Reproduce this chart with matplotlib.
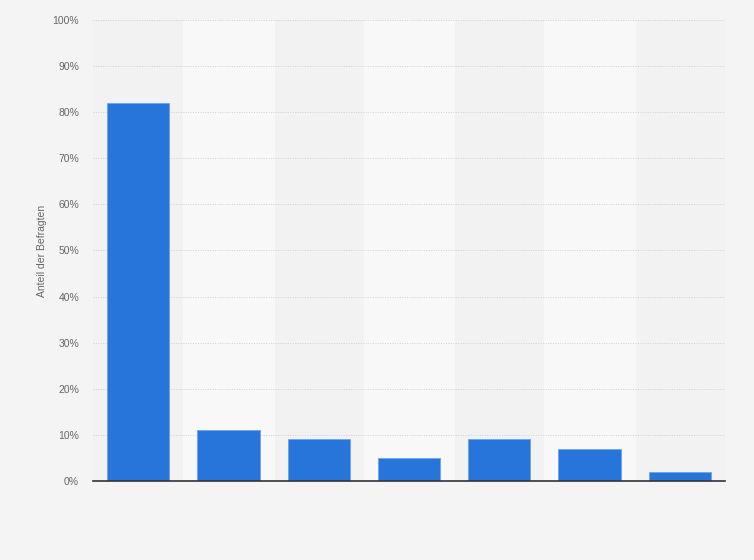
import matplotlib.pyplot as plt
import numpy as np

plt.rcParams['font.family'] = ['Liberation Sans', 'DejaVu Sans']

# values (percent of respondents)
categories = ['1', '2', '3', '4', '5', '6', '7']
shares = [82, 11, 9, 5, 9, 7, 2]
y_ticks = [0, 10, 20, 30, 40, 50, 60, 70, 80, 90, 100]

fig = plt.figure(figsize=(7.54, 5.6), dpi=100)
fig.patch.set_facecolor('#f4f4f4')
ax = fig.add_axes([0.1233, 0.1411, 0.8382, 0.8232])
ax.set_facecolor('#f2f2f2')

x = np.arange(len(categories))

# alternating column bands
for i in x:
    if i % 2 == 1:
        ax.axvspan(i - 0.5, i + 0.5, color='#f8f8f8', zorder=0)

ax.bar(x, shares, width=0.69, color='#2775db', edgecolor='#6aa3ec', linewidth=0.6, zorder=3)

ax.set_xlim(-0.5, len(categories) - 0.5)
ax.set_ylim(0, 100)
ax.set_yticks(y_ticks)
ax.set_yticklabels([f'{t}%' for t in y_ticks], color='#666666', fontsize=7.5)
ax.set_xticks([])
ax.tick_params(axis='y', length=0, pad=10)

ax.grid(axis='y', color='#cfcfcf', linestyle=(0, (1, 1.5)), linewidth=0.7, zorder=1)
for s in ['top', 'right', 'left']:
    ax.spines[s].set_visible(False)
ax.spines['bottom'].set_color('#333333')
ax.spines['bottom'].set_linewidth(1.2)
ax.spines['bottom'].set_zorder(4)

ax.set_ylabel('Anteil der Befragten', color='#666666', fontsize=7.5, labelpad=4)

fig.savefig('out.png', dpi=100, facecolor=fig.get_facecolor())
